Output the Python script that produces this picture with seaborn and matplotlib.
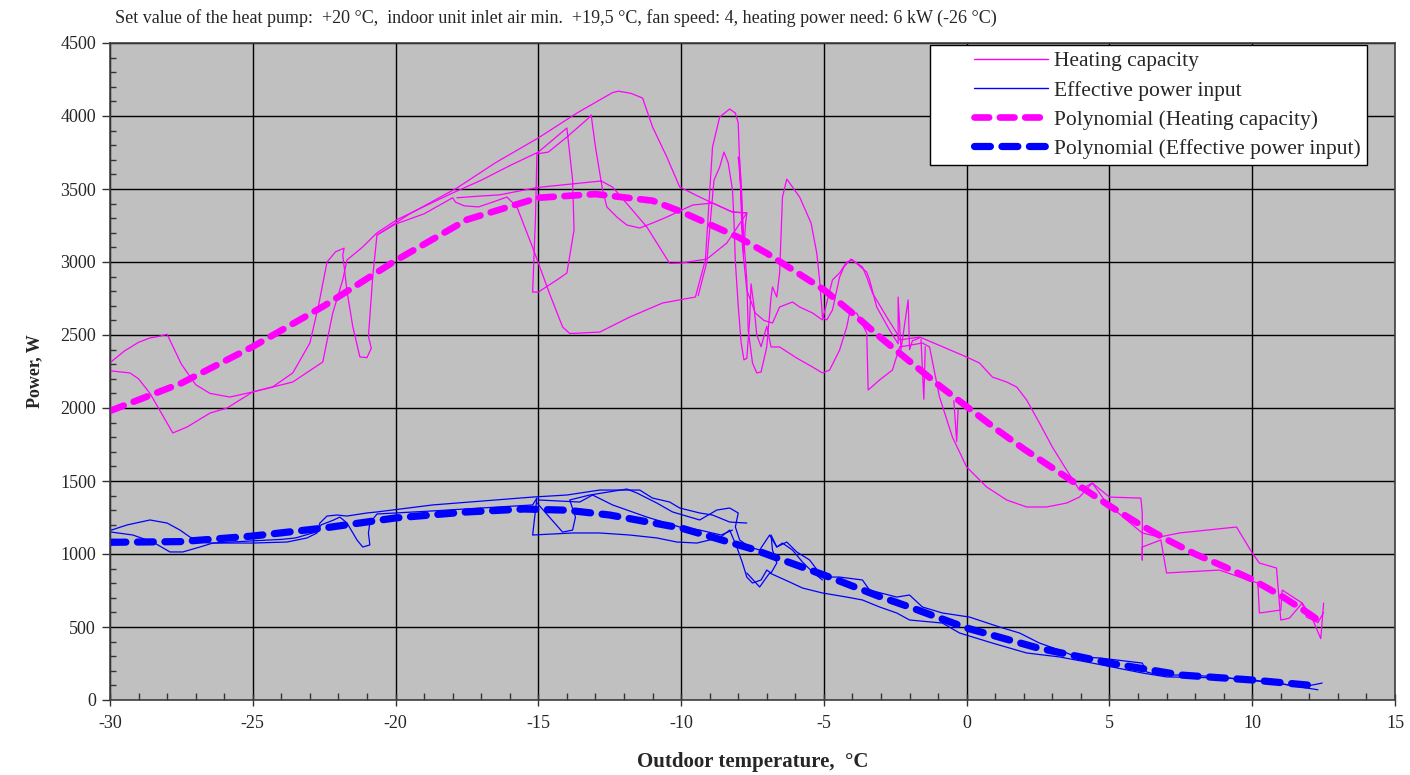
import numpy as np
import pandas as pd
import matplotlib
matplotlib.use("Agg")
import matplotlib.pyplot as plt
from matplotlib.lines import Line2D
from matplotlib.legend_handler import HandlerLine2D
from matplotlib.ticker import MultipleLocator
import seaborn as sns

# Measured heating capacity (W) vs outdoor temperature (°C), traced as separate strokes
heat_t1 = [-30, -29.5, -29, -28.6, -28.3, -28, -27.5, -27, -26.5, -25.8, -25, -24.3, -23.6, -23, -22.7, -22.4,
           -22.1, -21.8, -21.85, -21.7, -21.5, -21.25, -21.0, -20.85, -20.95, -20.8, -20.65, -20, -19, -18, -17.9,
           -17.6, -17.1, -16.6, -16.1, -15.75, -15.2, -14.6, -14.15, -13.9, -12.85, -11.8, -10.65, -9.7, -9.5,
           -9.15, -8.9, -8.65, -8.3, -8.1, -8.0, -7.95, -7.9, -7.85, -7.8, -7.7, -7.65, -7.5, -7.35, -7.2, -7.0,
           -6.85, -6.8, -6.65, -6.55, -6.45, -6.3, -5.85, -5.45, -5.25, -5.15, -5.05, -4.9, -4.7, -4.45, -4.3,
           -4.05, -3.65, -3.5, -3.3, -2.8, -2.45, -2.35, -1.9, -1.65, -1.4, 0, 0.45, 0.9, 1.4, 1.75, 2.1, 2.55,
           3.0, 3.5, 3.95, 4.4, 4.9, 5.6, 6.15, 6.75, 7.45, 9.45, 10.0, 10.25, 10.85, 11.0, 11.3, 11.75, 12.1,
           12.4, 12.5]
heat_p1 = [2310, 2390, 2450, 2480, 2490, 2505, 2300, 2160, 2100, 2075, 2110, 2145, 2240, 2445, 2700, 3000,
           3070, 3095, 3050, 2800, 2560, 2350, 2345, 2410, 2490, 2900, 3185, 3260, 3330, 3440, 3410,
           3385, 3377, 3410, 3445, 3377, 3100, 2780, 2555, 2510, 2520, 2623, 2719, 2753, 2760,
           3014, 3788, 3993, 4048, 4020, 3952, 3678, 3560, 3336, 3150, 2877, 2534, 2308, 2240, 2247, 2418,
           2760, 2829, 2760, 2925, 3445, 3568, 3445, 3267, 3062, 2877, 2623, 2603, 2671, 2897, 2966,
           3020, 2966, 2897, 2788, 2623, 2514, 2466, 2479, 2486, 2466, 2349, 2308, 2212, 2178, 2144, 2055, 1897,
           1733, 1575, 1438, 1486, 1349, 1233, 1144, 1116, 1144, 1185, 1007, 938, 904, 548, 560, 664, 560,
           420, 664]

heat_t2 = [-30, -29.3, -29, -28.6, -27.8, -27.3, -26.5, -25.9, -25, -23.6, -22.55, -22.2, -21.85, -21.7, -21.15,
           -20.65, -19.95, -19, -18, -17, -16, -15, -14, -13.8, -13.75, -14.0, -14.25, -15.0, -15.2, -15.1, -15.05,
           -14.65, -14.0, -13.2, -13.15, -13.0, -12.75, -12.6, -12.25, -11.9, -11.45, -11.0, -10.5, -9.6, -8.9,
           -8.2, -7.7, -8.4, -9.1, -10.0, -10.4, -11.2, -11.8, -12.4, -12.8, -13.55, -15.05, -16.35, -17.15, -17.85]
heat_p2 = [2255, 2240, 2200, 2100, 1829, 1870, 1965, 2000, 2110, 2178, 2315, 2650, 2877, 3014, 3103,
           3200, 3290, 3380, 3473, 3560, 3660, 3753, 3918, 3562, 3219, 2925, 2890, 2794, 2794, 3300, 3740,
           3753, 3856, 3993, 4007, 3788, 3493, 3377, 3308, 3253, 3233, 3267, 3308, 3390, 3404,
           3342, 3336, 3130, 3020, 2993, 2990, 3240, 3377, 3513, 3555, 3540, 3510, 3460, 3450, 3440]

heat_t3 = [-20.65, -19.5, -17.85, -16.5, -15.0, -13.65, -12.85, -12.4, -12.2, -11.75, -11.35, -11.0, -10.5,
           -10.05, -9.35, -8.9, -8.2, -7.7]
heat_p3 = [3185, 3330, 3507, 3680, 3850, 4020, 4110, 4160, 4170, 4155, 4123, 3925, 3719,
           3514, 3445, 3404, 3342, 3336]

heat_t4 = [-9.4, -9.1, -8.85, -8.65, -8.5, -8.35, -8.2, -8.15, -8.1, -8.0, -7.9, -7.8, -7.7, -7.6, -7.55, -7.45,
           -7.35, -7.2, -7.0, -6.85, -6.55, -5.95, -5.4, -5.05, -4.8, -4.45, -4.2, -4.1, -3.85, -3.5, -3.45, -3.05,
           -2.6, -2.35, -1.55, -1.3, -0.95, -0.5, 0, 0.7, 1.4, 2.1, 2.8, 3.5, 3.95, 4.4, 5.0, 6.1, 6.15, 6.15, 6.15,
           6.8, 7.0, 8.85, 9.65, 10.2, 10.25, 11.0, 11.05, 11.75, 11.9, 12.3, 12.5]
heat_p4 = [2770, 3000, 3560, 3650, 3753, 3678, 3493, 3288, 3000, 2700, 2450, 2330, 2340, 2600, 2850, 2700,
           2500, 2420, 2560, 2418, 2418, 2342, 2281, 2240, 2260, 2397, 2555, 2650, 2650, 2514, 2123, 2192,
           2260, 2418, 2445, 2418, 2075, 1801, 1596, 1459, 1370, 1322, 1322, 1349, 1390, 1486, 1390, 1383, 1280,
           959, 1048, 1096, 870, 890, 836, 801, 596, 616, 753, 664, 568, 530, 600]

heat_t5 = [-7.7, -7.75, -7.8, -7.85, -7.9, -8.0, -7.95, -7.85, -7.7, -7.4, -7.1, -6.8, -6.55, -6.1, -5.85, -5.4,
           -5.05, -4.7, -4.45, -4.2, -4.0, -3.5, -3.4, -3.15, -2.7, -2.4, -2.4, -2.3, -2.05, -2.0, -1.9, -1.65]
heat_p5 = [3336, 3250, 3062, 3219, 3493, 3719, 3699, 3100, 2808, 2650, 2600, 2582, 2692, 2726, 2692, 2651,
           2603, 2877, 2925, 3000, 3014, 2931, 2877, 2692, 2534, 2440, 2760, 2400, 2740, 2400, 2460, 2480]

heat_t6 = [-1.6, -1.5, -1.45]
heat_p6 = [2470, 2060, 2420]
heat_t7 = [-0.45, -0.35, -0.3]
heat_p7 = [2050, 1770, 1990]

# Measured effective power input (W)
pow_t1 = [-29.95, -29.4, -28.6, -28, -27.55, -27.2, -26.75, -26.5, -25.7, -25, -23.8, -23.1, -22.75, -22.65,
          -22.4, -22.05, -21.7, -21, -20.65, -18.7, -15.2, -14, -12.85, -12.4, -11.45, -11, -10.4, -10.05, -9.35,
          -8.9, -8.3, -7.7]
pow_p1 = [1164, 1199, 1233, 1212, 1164, 1116, 1082, 1075, 1075, 1075, 1082, 1110, 1144, 1212,
          1260, 1267, 1260, 1281, 1288, 1336, 1390, 1404, 1438, 1438, 1438, 1383, 1356, 1315, 1281,
          1267, 1219, 1212]

pow_t2 = [-29.95, -29.2, -28.5, -27.9, -27.45, -26.85, -26.4, -25, -24, -23.5, -22.8, -22.6, -22.2, -21.95,
          -21.7, -21.35, -21.15, -20.9, -20.95, -20.9, -20.65, -18.7, -15.2, -15.05, -15.2, -13.8, -12.85, -11.8,
          -10.85, -10.15, -9.45, -9.0, -8.65, -8.3, -8.05, -7.85, -7.7, -7.5, -7.2, -7.0, -6.85, -6.65, -6.8,
          -6.85, -6.65, -6.45, -6.1, -5.75, -5.4, -5.05]
pow_p2 = [1150, 1130, 1082, 1014, 1014, 1048, 1075, 1090, 1100, 1110, 1150, 1200, 1230, 1253,
          1212, 1096, 1048, 1062, 1144, 1212, 1274, 1295, 1336, 1383, 1130, 1144, 1144, 1130,
          1110, 1082, 1075, 1096, 1110, 1164, 1048, 938, 842, 801, 822, 890, 870, 938, 1027,
          1130, 1048, 1075, 1027, 945, 877, 822]

pow_t3 = [-15.05, -14.15, -13.8, -13.7, -13.9, -13.2, -11.9, -11.55, -10.85, -10.3, -9.35, -8.75, -8.3, -8.0,
          -8.1, -7.95, -7.6, -7.25, -6.9, -6.65, -6.3, -5.95, -5.5, -5.05, -4.45, -3.65, -3.4, -2.45, -2.0, -1.55,
          -0.85, 0.1, 1.15, 1.85, 2.55, 3.25, 3.85, 4.65, 6.15, 6.3, 6.75, 7.9, 10.0, 10.85, 11.75, 12.45]
pow_p3 = [1350, 1150, 1164, 1253, 1370, 1404, 1445, 1418, 1349, 1288, 1233, 1301, 1315, 1281,
          1185, 1096, 1048, 1027, 1130, 1048, 1082, 1014, 959, 842, 842, 822, 753, 705, 719, 637,
          596, 568, 500, 459, 390, 342, 295, 288, 253, 192, 171, 171, 137, 116, 89, 116]

pow_t4 = [-7.7, -7.25, -6.9, -6.2, -5.75, -5.05, -4.2, -3.65, -3.05, -2.45, -2.0, -0.85, -0.25, 0.9, 2.1, 3.25,
          4.4, 6.15, 7.0, 9.1, 10.85, 12.3]
pow_p4 = [870, 774, 870, 808, 767, 733, 705, 685, 637, 596, 548, 527, 459, 390, 322, 295,
          253, 185, 158, 151, 116, 70]

pow_t5 = [-15.0, -13.55, -13.1, -12.4, -11.2, -10.05, -9.35, -8.6, -8.2]
pow_p5 = [1370, 1356, 1404, 1336, 1253, 1185, 1164, 1130, 1164]

# Polynomial trend lines
heat_fit_t = [-30, -27.5, -25, -22.5, -20, -17.5, -15, -13, -11, -10, -8, -7, -5, -4, -3, -2, -1, 0, 1, 2, 3,
              4, 5, 6, 7, 8, 9, 10, 11, 12, 12.5]
heat_fit_p = [1980, 2170, 2420, 2700, 3010, 3290, 3440, 3465, 3420, 3345, 3170, 3060, 2810, 2650, 2480, 2320,
              2160, 2010, 1860, 1720, 1590, 1460, 1330, 1210, 1100, 1000, 915, 825, 715, 590, 520]
pow_fit_t = [-30, -27.5, -25, -22.5, -20, -17.5, -15.5, -14, -12.5, -10, -7.5, -5, -3, -2, 0, 2.5, 5, 7.5, 10,
             12.3]
pow_fit_p = [1080, 1085, 1123, 1178, 1247, 1288, 1308, 1300, 1267, 1178, 1034, 856, 705, 637, 493, 356, 253,
             171, 137, 96]

title = ("Set value of the heat pump:  +20 \u00b0C,  indoor unit inlet air min.  +19,5 \u00b0C, "
         "fan speed: 4, heating power need: 6 kW (-26 \u00b0C)")
labels = ["Heating capacity", "Effective power input",
          "Polynomial (Heating capacity)", "Polynomial (Effective power input)"]

MAGENTA = "#FF00FF"
BLUE = "#0000FF"


def runs_frame(runs):
    parts = []
    for i, (t, p) in enumerate(runs):
        parts.append(pd.DataFrame({"t": t, "p": p, "run": i}))
    return pd.concat(parts, ignore_index=True)


# legend line drawn only on the right part of the handle box (empty space on the left)
class PaddedLine(HandlerLine2D):
    def get_xdata(self, legend, xdescent, ydescent, width, height, fontsize):
        pad = 0.34 * width
        xdata = np.array([-xdescent + pad, -xdescent + width])
        return xdata, xdata


heat_df = runs_frame([(heat_t1, heat_p1), (heat_t2, heat_p2), (heat_t3, heat_p3), (heat_t4, heat_p4),
                      (heat_t5, heat_p5), (heat_t6, heat_p6), (heat_t7, heat_p7)])
pow_df = runs_frame([(pow_t1, pow_p1), (pow_t2, pow_p2), (pow_t3, pow_p3), (pow_t4, pow_p4),
                     (pow_t5, pow_p5)])

sns.set_theme(style="white")
plt.rcParams["font.family"] = ["Liberation Serif", "DejaVu Serif"]
plt.rcParams["axes.unicode_minus"] = False

fig = plt.figure(figsize=(14.1, 7.75), dpi=100)
ax = fig.add_axes([110 / 1410, 75 / 775, 1285 / 1410, 657 / 775])
ax.set_facecolor("#C0C0C0")

sns.lineplot(data=heat_df, x="t", y="p", units="run", estimator=None, sort=False,
             color=MAGENTA, lw=0.9, ax=ax, legend=False)
sns.lineplot(data=pow_df, x="t", y="p", units="run", estimator=None, sort=False,
             color=BLUE, lw=0.9, ax=ax, legend=False)

dash = (0, (2.2, 1.6))
sns.lineplot(x=heat_fit_t, y=heat_fit_p, sort=False, color=MAGENTA, lw=4.8,
             linestyle=dash, dash_capstyle="round", ax=ax)
sns.lineplot(x=pow_fit_t, y=pow_fit_p, sort=False, color=BLUE, lw=5.2,
             linestyle=dash, dash_capstyle="round", ax=ax)

ax.set_xlim(-30, 15)
ax.set_ylim(0, 4500)
ax.xaxis.set_major_locator(MultipleLocator(5))
ax.xaxis.set_minor_locator(MultipleLocator(1))
ax.yaxis.set_major_locator(MultipleLocator(500))
ax.yaxis.set_minor_locator(MultipleLocator(100))
ax.grid(True, which="major", color="black", lw=1.0)
ax.set_axisbelow(True)

ax.tick_params(axis="x", which="major", direction="inout", length=9, width=1, color="#333333",
               labelsize=13, pad=6, bottom=True)
ax.tick_params(axis="x", which="minor", direction="in", length=5, width=1, color="#333333", bottom=True)
ax.tick_params(axis="y", which="major", direction="out", length=6, width=1, color="#333333",
               labelsize=13, pad=4, left=True)
ax.tick_params(axis="y", which="minor", direction="in", length=4, width=1, color="#333333", left=True)

for side, sp in ax.spines.items():
    sp.set_color("#404040")
    sp.set_linewidth(1.2)

ax.set_xlabel("Outdoor temperature,  \u00b0C", fontsize=15, fontweight="bold", labelpad=15)
ax.set_ylabel("Power, W", fontsize=13, fontweight="bold", labelpad=12)

fig.text(115 / 1410, 1 - 18 / 775, title, fontsize=13, va="center", ha="left")

handles = [
    Line2D([], [], color=MAGENTA, lw=1.0),
    Line2D([], [], color=BLUE, lw=1.0),
    Line2D([], [], color=MAGENTA, lw=4.8, linestyle=dash, dash_capstyle="round"),
    Line2D([], [], color=BLUE, lw=5.2, linestyle=dash, dash_capstyle="round"),
]
leg = ax.legend(handles, labels, loc="upper right", bbox_to_anchor=(0.978, 0.997), fontsize=15.5,
                frameon=True, fancybox=False, framealpha=1, edgecolor="black", facecolor="white",
                handlelength=5.2, handletextpad=0.25, labelspacing=0.42, borderpad=0.3,
                borderaxespad=0, handler_map={Line2D: PaddedLine()})
leg.get_frame().set_linewidth(1.0)

fig.savefig("out.png", dpi=100)
